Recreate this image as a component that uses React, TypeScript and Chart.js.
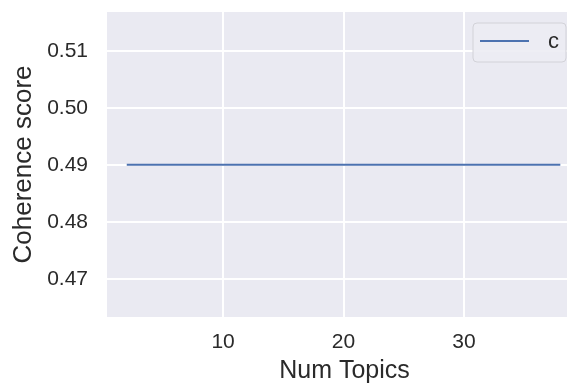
import React, { useEffect, useRef } from "react";
import { Chart, registerables } from "chart.js";

Chart.register(...registerables);

const numTopics = [2, 8, 14, 20, 26, 32, 38];
const coherenceValues = [0.49, 0.49, 0.49, 0.49, 0.49, 0.49, 0.49];
const legendLabels = ["c"];
const xTicks = [10, 20, 30];
const yTicks = [0.47, 0.48, 0.49, 0.5, 0.51];
const xRange = [0.36, 39.8];
const yRange = [0.4633, 0.5168];

const FONT = "'Liberation Sans', Arial, Helvetica, sans-serif";
const TEXT = "#2a2a2a";

const bgPlugin = {
  id: "axesBg",
  beforeDraw(chart: any) {
    const { ctx, chartArea } = chart;
    ctx.save();
    ctx.fillStyle = "#eaeaf2";
    ctx.fillRect(chartArea.left, chartArea.top, chartArea.right - chartArea.left, chartArea.bottom - chartArea.top);
    ctx.restore();
  },
};

const legendPlugin = {
  id: "mplLegend",
  afterDatasetsDraw(chart: any) {
    const { ctx } = chart;
    const ds = chart.data.datasets[0];
    const x0 = 473, y0 = 23, w = 93, h = 39, r = 4;
    ctx.save();
    ctx.beginPath();
    ctx.moveTo(x0 + r, y0);
    ctx.lineTo(x0 + w - r, y0);
    ctx.quadraticCurveTo(x0 + w, y0, x0 + w, y0 + r);
    ctx.lineTo(x0 + w, y0 + h - r);
    ctx.quadraticCurveTo(x0 + w, y0 + h, x0 + w - r, y0 + h);
    ctx.lineTo(x0 + r, y0 + h);
    ctx.quadraticCurveTo(x0, y0 + h, x0, y0 + h - r);
    ctx.lineTo(x0, y0 + r);
    ctx.quadraticCurveTo(x0, y0, x0 + r, y0);
    ctx.closePath();
    ctx.fillStyle = "rgba(236,236,243,0.9)";
    ctx.fill();
    ctx.strokeStyle = "#d2d2d8";
    ctx.lineWidth = 1;
    ctx.stroke();
    ctx.beginPath();
    ctx.moveTo(480, 41);
    ctx.lineTo(529, 41);
    ctx.strokeStyle = ds.borderColor;
    ctx.lineWidth = 2;
    ctx.stroke();
    ctx.fillStyle = TEXT;
    ctx.font = `22px ${FONT}`;
    ctx.textBaseline = "middle";
    ctx.textAlign = "left";
    ctx.fillText(ds.label, 548, 42);
    ctx.restore();
  },
};

function noPad(scale: any) {
  scale.paddingTop = 0;
  scale.paddingBottom = 0;
  scale.paddingLeft = 0;
  scale.paddingRight = 0;
}

export default function App() {
  const ref = useRef<HTMLCanvasElement>(null);
  useEffect(() => {
    if (!ref.current) return;
    const chart = new Chart(ref.current, {
      type: "line",
      data: {
        datasets: [
          {
            label: legendLabels[0],
            data: numTopics.map((x, i) => ({ x, y: coherenceValues[i] })),
            borderColor: "#4c72b0",
            borderWidth: 2,
            pointRadius: 0,
            fill: false,
            tension: 0,
          },
        ],
      },
      options: {
        animation: false,
        responsive: false,
        devicePixelRatio: 1,
        layout: { padding: { top: 12, right: 18, left: 0, bottom: 0 } },
        plugins: { legend: { display: false }, tooltip: { enabled: false } },
        scales: {
          x: {
            type: "linear",
            min: xRange[0],
            max: xRange[1],
            afterFit(scale: any) {
              scale.height = 67;
              noPad(scale);
            },
            afterBuildTicks(scale: any) {
              scale.ticks = xTicks.map((v) => ({ value: v }));
            },
            grid: { color: "#ffffff", lineWidth: 2, drawTicks: false },
            border: { display: false },
            ticks: {
              padding: 13,
              color: TEXT,
              font: { family: FONT, size: 21 },
              maxRotation: 0,
              callback: (v: any) => String(v),
            },
            title: {
              display: true,
              text: "Num Topics",
              color: TEXT,
              font: { family: FONT, size: 25, lineHeight: 1 },
              padding: { top: 0, bottom: 0 },
            },
          },
          y: {
            type: "linear",
            min: yRange[0],
            max: yRange[1],
            afterFit(scale: any) {
              scale.width = 107;
              noPad(scale);
            },
            afterBuildTicks(scale: any) {
              scale.ticks = yTicks.map((v) => ({ value: v }));
            },
            grid: { color: "#ffffff", lineWidth: 2, drawTicks: false },
            border: { display: false },
            ticks: {
              padding: 19,
              color: TEXT,
              font: { family: FONT, size: 21 },
              callback: (v: any) => Number(v).toFixed(2),
            },
            title: {
              display: true,
              text: "Coherence score",
              color: TEXT,
              font: { family: FONT, size: 26, lineHeight: 1 },
              padding: { top: 11, bottom: 0 },
            },
          },
        },
      },
      plugins: [bgPlugin, legendPlugin],
    });
    return () => chart.destroy();
  }, []);
  return (
    <div style={{ position: "absolute", left: 0, top: 0, width: 567, height: 384, overflow: "hidden", background: "#fff" }}>
      <canvas ref={ref} width={600} height={384} style={{ width: 600, height: 384, display: "block" }} />
    </div>
  );
}
